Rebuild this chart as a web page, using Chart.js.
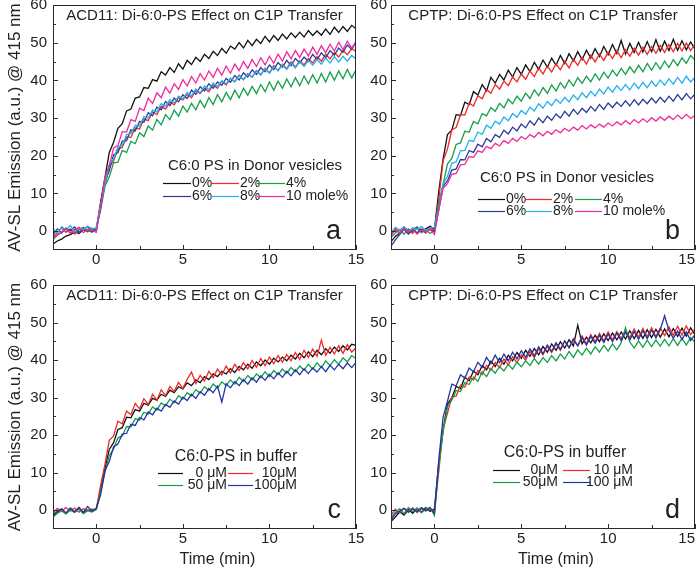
<!DOCTYPE html>
<html>
<head>
<meta charset="utf-8">
<script src="https://cdn.jsdelivr.net/npm/chart.js@4.4.1/dist/chart.umd.min.js"></script>
<style>
  html, body { margin: 0; padding: 0; background: #fff; }
  #wrap { position: relative; width: 700px; height: 572px; }
  #wrap canvas { position: absolute; left: 0; top: 0; }
</style>
</head>
<body>
<div id="wrap">
  <canvas id="pa" width="700" height="572"></canvas>
  <canvas id="pb" width="700" height="572"></canvas>
  <canvas id="pc" width="700" height="572"></canvas>
  <canvas id="pd" width="700" height="572"></canvas>
</div>
<script>
// time axis (min)
const times = [-2.5,-2.25,-2,-1.75,-1.5,-1.25,-1,-0.75,-0.5,-0.25,0,
  0.25,0.5,0.75,1,1.25,1.5,1.75,2,2.25,2.5,2.75,3,3.25,3.5,3.75,4,4.25,4.5,4.75,5,
  5.25,5.5,5.75,6,6.25,6.5,6.75,7,7.25,7.5,7.75,8,8.25,8.5,8.75,9,9.25,9.5,9.75,10,
  10.25,10.5,10.75,11,11.25,11.5,11.75,12,12.25,12.5,12.75,13,13.25,13.5,13.75,14,14.25,14.5,14.75,15];

const yMajor = [0, 10, 20, 30, 40, 50, 60];
const yMinor = [5, 15, 25, 35, 45, 55];
const xMajor = [0, 5, 10, 15];
const xMinor = [2.5, 7.5, 12.5];

const titles = ['ACD11: Di-6:0-PS Effect on C1P Transfer', 'CPTP: Di-6:0-PS Effect on C1P Transfer',
                'ACD11: Di-6:0-PS Effect on C1P Transfer', 'CPTP: Di-6:0-PS Effect on C1P Transfer'];
const donorLabels = ['0%', '2%', '4%', '6%', '8%', '10 mole%'];
const bufferLabelsC = ['0 \u03bcM', '10\u03bcM', '50 \u03bcM', '100\u03bcM'];
const bufferLabelsD = ['0\u03bcM', '10 \u03bcM', '50\u03bcM', '100 \u03bcM'];

// panel a: ACD11, PS in donor vesicles
const a0 = [-3.4,-2.6,-2.1,-1.3,-0.9,-0.2,-0.6,0.4,-0.1,0.7,0.3,
  7.8,14.2,20.9,23.6,27.3,28.5,31.9,32.4,35.3,35.6,38.1,37.9,40.2,39.8,42.3,41.4,43.4,42.1,44.4,43.0,
  45.3,44.2,46.1,45.0,46.9,45.8,47.7,46.6,48.5,47.2,49.1,48.3,50.0,48.6,50.6,49.2,50.9,49.8,51.7,50.2,
  51.9,50.6,52.3,51.0,52.6,51.4,52.8,51.5,53.2,51.9,53.1,52.0,53.6,52.2,54.1,52.7,54.3,53.0,54.6,53.7];
const a2 = [-1.5,-0.4,0.9,-0.3,0.6,-0.8,0.4,1.0,-0.2,0.8,0.1,
  6.9,12.1,17.2,18.6,21.8,22.2,25.0,24.9,27.4,27.1,29.8,29.3,31.6,30.9,33.1,32.4,34.3,33.5,35.4,34.8,
  36.3,35.4,37.4,36.5,37.9,37.0,38.8,37.9,39.8,38.8,40.5,39.6,41.4,40.2,41.8,40.9,42.6,41.5,43.2,42.0,
  43.9,42.6,44.3,43.1,44.9,43.5,45.2,44.1,45.8,44.6,46.3,45.1,46.9,45.7,47.4,46.2,47.9,46.8,48.5,47.6];
const a4 = [-2.2,-1.1,-0.3,0.7,-0.6,0.5,-0.4,0.9,0.2,-0.3,0.6,
  5.6,11.9,14.4,18.1,18.3,21.4,20.9,23.8,23.2,26.1,25.1,27.9,26.8,29.6,28.2,30.9,29.6,32.1,30.5,33.2,
  31.6,33.9,32.2,34.7,32.8,35.4,33.6,36.2,34.3,36.8,34.9,37.4,35.4,37.9,36.1,38.4,36.5,38.9,37.0,39.6,
  37.4,39.8,37.9,40.4,38.3,40.7,38.6,41.2,39.1,41.5,39.3,41.8,39.6,42.2,40.0,42.5,40.4,42.9,40.7,42.8];
const a6 = [-1.0,0.6,-0.5,0.8,0.1,1.1,-0.3,0.5,1.2,-0.2,0.9,
  6.2,13.1,16.0,20.3,20.8,23.9,24.0,26.9,26.6,29.1,28.9,31.4,30.6,32.9,32.2,34.4,33.3,35.3,34.3,36.2,
  35.2,37.4,36.3,38.3,37.2,39.1,37.9,39.6,38.7,40.5,39.5,41.3,40.1,42.0,40.9,42.8,41.6,43.4,42.3,44.1,
  42.9,44.7,43.5,45.3,43.9,45.8,44.6,46.2,45.0,46.9,45.5,47.3,46.0,47.9,46.7,48.6,47.5,49.4,48.2,50.3];
const a8 = [0.8,-0.5,1.2,0.3,1.5,-0.2,0.9,0.4,1.3,0.6,0.8,
  7.0,12.4,17.6,19.3,22.3,22.8,25.6,25.9,28.1,27.9,30.4,30.0,32.1,31.6,33.8,33.1,34.9,34.0,35.8,35.1,
  36.8,35.9,37.7,36.7,38.5,37.5,39.3,38.3,39.9,39.1,40.6,39.7,41.3,40.2,41.7,40.8,42.5,41.4,43.1,41.9,
  43.6,42.6,44.1,42.9,44.6,43.3,45.0,43.7,45.3,44.0,45.6,44.3,45.9,44.6,46.3,44.9,46.4,45.1,46.6,45.7];
const a10 = [-1.8,-0.9,-0.2,0.6,-0.5,0.3,1.0,-0.4,0.5,0.2,-0.3,
  6.6,14.3,17.4,22.1,22.7,26.4,26.3,29.6,29.1,32.6,32.0,35.3,33.9,36.7,35.4,38.2,36.6,39.1,37.6,40.2,
  38.5,41.0,39.3,41.8,40.1,42.5,40.8,43.2,41.4,43.8,41.9,44.3,42.6,45.0,43.2,45.5,43.7,46.0,44.1,46.4,
  44.6,47.0,45.1,47.6,45.7,47.9,46.1,48.3,46.5,48.8,46.9,49.2,47.3,49.6,47.8,50.1,48.2,50.4,48.6,50.2];

// panel b: CPTP, PS in donor vesicles
const b0 = [-2.8,-1.4,-0.5,0.9,-0.7,0.4,1.1,-0.2,0.6,1.3,0.5,
  10.6,19.2,25.6,26.8,30.9,30.7,34.2,33.6,37.0,36.1,38.9,37.2,40.8,39.3,41.6,40.1,42.7,40.9,43.4,41.6,
  44.1,42.3,44.8,42.9,45.4,43.5,45.9,44.0,46.6,44.5,47.1,45.2,47.6,45.5,48.0,45.9,48.4,46.3,49.0,46.8,
  49.5,47.1,50.6,47.0,49.8,47.4,50.1,47.5,50.3,47.6,50.8,47.7,50.4,47.9,50.9,48.0,50.5,48.1,50.2,48.3];
const b2 = [-0.9,0.7,-0.4,1.0,0.2,-0.6,0.9,0.3,-0.5,0.8,0.0,
  8.5,18.7,21.8,26.9,27.5,30.9,30.8,34.0,33.2,35.9,35.1,37.6,36.6,38.9,37.7,39.8,38.6,40.9,39.6,41.7,
  40.3,42.5,41.0,43.3,41.7,43.8,42.2,44.4,42.8,45.0,43.3,45.6,44.0,46.1,44.3,46.7,44.9,47.0,45.3,47.5,
  45.8,47.9,46.0,48.2,46.4,48.5,46.7,48.8,46.9,49.0,47.2,49.3,47.4,49.5,47.6,49.8,47.8,49.9,47.9,49.6];
const b4 = [-1.6,-0.5,0.4,-0.8,0.6,-0.2,0.8,-0.4,0.3,-0.6,0.2,
  7.5,12.4,17.8,19.3,23.0,23.4,26.5,26.3,29.1,28.5,31.2,30.6,32.8,31.8,33.9,32.7,35.0,33.8,35.8,34.5,
  36.6,35.2,37.5,35.9,38.1,36.6,38.8,37.2,39.4,37.9,40.1,38.5,40.7,39.2,41.1,39.6,41.7,40.1,42.2,40.6,
  42.7,41.2,43.2,41.6,43.6,42.0,44.0,42.3,44.5,42.7,44.7,43.0,45.1,43.4,45.5,43.9,46.0,44.5,46.6,45.4];
const b6 = [-4.0,-2.3,-0.9,0.5,-0.7,0.3,-0.4,0.6,-0.1,0.4,-0.2,
  5.6,12.0,13.3,16.2,16.5,19.0,18.9,21.4,20.9,23.1,22.4,24.6,23.7,25.6,24.9,26.8,25.8,27.6,26.6,28.4,
  27.4,29.3,28.1,30.0,28.8,30.5,29.4,31.1,30.0,31.8,30.5,32.3,31.0,32.6,31.5,33.1,31.9,33.6,32.3,34.0,
  32.8,34.2,33.1,34.6,33.2,34.9,33.5,35.0,33.8,35.3,34.0,35.5,34.2,35.8,34.5,36.2,34.8,36.5,35.1,36.4];
const b8 = [-0.4,1.0,0.3,1.2,-0.3,0.9,0.5,1.3,0.2,0.8,1.0,
  6.1,12.6,14.5,18.0,18.4,21.3,21.4,24.1,23.8,26.3,25.7,28.1,27.3,29.2,28.4,30.3,29.3,31.2,30.2,32.0,
  31.0,32.9,31.9,33.8,32.6,34.4,33.3,35.0,33.9,35.5,34.3,36.1,34.9,36.7,35.4,37.1,35.9,37.7,36.4,38.2,
  36.9,38.6,37.3,38.9,37.5,39.3,37.8,39.5,38.1,39.8,38.4,40.1,38.7,40.4,39.0,40.8,39.3,41.1,39.6,40.9];
const b10 = [-1.2,0.4,-0.6,0.7,-0.3,0.5,-0.8,0.3,-0.2,0.6,-0.9,
  5.8,11.4,12.6,15.1,15.3,17.6,17.7,19.8,19.6,21.3,20.9,22.5,21.9,23.3,22.6,24.0,23.3,24.6,23.8,25.1,
  24.4,25.6,24.9,26.2,25.3,26.5,25.7,26.9,26.1,27.3,26.5,27.6,26.8,28.0,27.1,28.2,27.4,28.4,27.6,28.7,
  27.9,29.0,28.2,29.3,28.4,29.6,28.7,29.8,28.9,30.1,29.2,30.3,29.4,30.5,29.6,30.8,29.8,31.0,29.9,30.7];

// panel c: ACD11, PS in buffer
const c0 = [-1.5,-0.6,0.3,-0.9,0.2,-0.5,0.5,-0.7,0.1,-0.3,0.4,
  5.4,11.0,16.2,18.0,21.5,22.0,24.8,24.6,26.8,26.4,28.5,28.0,29.8,29.3,30.9,30.3,32.0,31.3,32.9,32.3,
  33.9,33.2,34.7,34.0,35.6,34.8,36.3,35.6,37.0,36.3,37.7,36.7,38.3,37.4,38.9,37.8,39.5,38.5,40.0,38.9,
  40.5,39.5,40.8,39.8,41.3,40.3,41.8,40.6,42.2,40.9,42.6,41.4,43.0,41.8,43.5,42.3,43.8,42.7,44.2,43.9];
const c10 = [-0.8,0.5,-0.3,0.7,-0.2,0.6,-0.5,0.4,-0.1,0.3,0.2,
  6.7,12.2,18.6,19.8,23.7,23.0,26.4,25.5,28.4,27.0,29.7,28.1,30.9,29.3,32.1,30.5,33.0,31.6,34.1,32.4,
  34.9,36.8,33.7,35.9,34.4,37.0,35.3,37.6,36.0,38.4,36.6,38.9,37.2,39.3,37.6,39.9,38.1,40.4,38.5,40.8,
  39.0,41.2,39.4,41.5,39.8,42.0,40.2,42.6,40.7,42.9,41.0,45.3,41.3,43.4,41.6,43.8,41.8,44.1,42.1,43.3];
const c50 = [-1.9,-0.8,-0.2,-1.0,0.1,-0.6,0.3,-0.9,-0.2,-0.5,0.2,
  4.9,10.1,14.6,16.3,19.3,19.8,22.3,22.2,24.4,24.0,26.1,25.6,27.5,26.7,28.6,27.8,29.6,28.6,30.5,29.6,
  31.3,30.4,32.1,31.2,32.9,31.9,33.6,32.5,34.2,33.2,34.7,33.6,35.4,34.3,35.9,34.7,36.3,35.3,36.9,35.6,
  37.2,36.1,37.6,36.5,38.0,36.9,38.4,37.3,38.9,37.6,39.3,38.0,39.8,38.5,40.1,38.9,40.6,39.5,41.2,40.4];
const c100 = [-1.2,-0.3,0.4,-0.7,0.6,-0.4,0.8,-0.6,1.0,-0.2,0.5,
  4.1,10.5,13.0,16.9,17.6,20.3,20.5,22.9,22.6,24.7,24.1,26.2,25.4,27.2,26.4,28.2,27.4,29.1,28.3,30.1,
  29.2,30.9,29.8,31.6,30.6,32.4,31.3,33.1,28.8,33.7,32.6,34.3,33.2,34.8,33.6,35.3,34.1,35.8,34.6,36.2,
  35.0,36.6,35.4,37.0,35.8,37.4,36.1,37.7,36.4,37.9,36.8,38.3,36.9,38.6,37.4,38.9,37.7,39.2,38.0,39.4];

// panel d: CPTP, PS in buffer
const d0 = [-3.0,-1.8,-0.4,-1.3,0.2,-0.8,0.5,-0.5,0.7,-0.3,0.4,
  12.6,21.4,28.3,29.9,33.0,32.4,35.4,34.5,37.1,36.1,38.5,37.4,39.7,38.3,40.5,38.9,41.3,39.8,42.0,40.5,
  42.6,41.0,43.1,41.4,43.6,42.1,44.3,42.6,44.9,43.2,45.4,43.8,49.3,44.3,46.1,44.6,46.6,44.9,47.0,45.2,
  47.2,45.4,47.5,45.6,47.8,45.7,47.9,45.8,48.1,46.0,48.2,46.1,48.3,46.2,48.4,46.3,48.5,46.4,48.6,46.7];
const d10 = [-1.4,0.3,-0.7,0.5,-0.3,0.6,-0.6,0.4,-0.2,0.5,-0.4,
  10.3,21.7,25.8,30.2,30.4,33.3,32.8,35.5,34.7,37.2,36.1,38.6,37.3,39.4,38.0,40.3,38.7,40.9,39.3,41.4,
  40.0,42.3,40.6,43.0,41.4,43.7,42.0,44.3,42.6,45.1,43.3,45.7,43.8,46.4,44.3,46.8,44.9,47.1,45.1,47.5,
  45.4,47.6,45.7,47.9,46.0,48.3,46.1,48.4,46.2,48.6,46.3,48.6,46.5,48.8,46.6,49.0,46.7,49.1,46.8,48.3];
const d50 = [-2.0,-0.6,0.4,-0.9,0.7,-0.4,0.6,-0.7,0.3,0.8,-1.4,
  12.1,20.9,27.6,29.3,31.9,31.6,34.0,33.5,35.5,34.3,36.9,35.6,37.7,36.5,38.3,37.1,38.9,37.6,39.5,38.2,
  39.8,38.6,40.4,38.9,40.7,39.4,41.2,39.8,41.6,40.3,42.3,40.7,42.7,41.3,43.2,41.6,43.5,42.1,43.9,42.4,
  44.3,42.7,44.6,48.6,44.8,43.2,45.1,43.4,45.3,43.6,45.4,43.7,45.5,43.8,45.7,43.9,45.8,44.0,46.0,44.7];
const d100 = [-2.6,-0.9,-0.2,0.5,-0.6,0.4,-0.3,0.7,-0.1,0.6,-0.8,
  13.4,24.8,29.0,33.6,33.1,36.1,35.2,37.9,36.9,39.4,38.1,40.7,39.0,41.3,39.3,41.6,39.8,42.1,40.3,42.5,
  40.7,43.0,41.1,43.5,41.7,44.0,42.3,44.6,42.9,45.1,43.3,45.5,43.8,46.0,44.0,46.3,44.5,46.6,44.7,46.9,
  44.9,47.2,45.2,47.4,45.4,47.6,45.5,47.8,45.7,48.0,45.9,48.1,51.8,47.9,45.8,47.7,45.5,47.5,45.2,46.8];

const FONT = '"Liberation Sans", Arial, Helvetica, sans-serif';
const TXT = '#222';
const donorColors = ['#111111', '#f02828', '#14a04a', '#2d3a96', '#1fb2ef', '#f02a9a'];
const bufferColors = ['#111111', '#f02828', '#14a04a', '#2234a6'];

const decor = {
  id: 'decor',
  afterDatasetsDraw(chart, args, o) {
    const { ctx, chartArea: a, scales: { x, y } } = chart;
    ctx.save();
    ctx.strokeStyle = '#2a2a2a';
    ctx.lineWidth = 1;
    ctx.strokeRect(a.left + 0.5, a.top + 0.5, a.width - 1, a.height - 1);
    ctx.beginPath();
    const yt = (v, len) => { const p = Math.round(y.getPixelForValue(v)) + 0.5; ctx.moveTo(a.left, p); ctx.lineTo(a.left + len, p); };
    const xt = (v, len) => { const p = Math.round(x.getPixelForValue(v)) + 0.5; ctx.moveTo(p, a.bottom); ctx.lineTo(p, a.bottom - len); };
    yMajor.forEach(v => yt(v, 5));
    yMinor.forEach(v => yt(v, 3));
    xMajor.forEach(v => xt(v, 5));
    xMinor.forEach(v => xt(v, 4));
    ctx.stroke();

    ctx.fillStyle = TXT;
    ctx.font = '15px ' + FONT;
    ctx.textAlign = 'center';
    ctx.textBaseline = 'middle';
    ctx.fillText(o.title, (a.left + a.right) / 2, a.top + 11);

    ctx.font = '27px ' + FONT;
    ctx.textAlign = 'right';
    ctx.textBaseline = 'alphabetic';
    ctx.fillText(o.letter, a.right - 15, a.bottom - 11);

    if (o.timeTitle) {
      ctx.font = '16px ' + FONT;
      ctx.textAlign = 'center';
      ctx.textBaseline = 'middle';
      ctx.fillText('Time (min)', (a.left + a.right) / 2 + 13, 560);
    }

    // legend
    const lg = o.legend;
    ctx.font = lg.titleSize + 'px ' + FONT;
    ctx.textAlign = 'center';
    ctx.textBaseline = 'middle';
    ctx.fillText(lg.title, lg.titleX, lg.titleY);
    ctx.font = '14px ' + FONT;
    chart.data.datasets.forEach((ds, k) => {
      const row = Math.floor(k / lg.colX.length), col = k % lg.colX.length;
      const yy = Math.round(lg.rowY[row]) + 0.5, xx = lg.colX[col];
      ctx.strokeStyle = ds.borderColor;
      ctx.lineWidth = 1.2;
      ctx.beginPath();
      ctx.moveTo(xx, yy);
      ctx.lineTo(xx + lg.lineLen, yy);
      ctx.stroke();
      ctx.fillStyle = TXT;
      if (lg.textRight) {
        ctx.textAlign = 'right';
        ctx.fillText(ds.label, lg.textRight[col], yy);
      } else {
        ctx.textAlign = 'left';
        ctx.fillText(ds.label, xx + lg.lineLen + 1, yy);
      }
    });
    ctx.restore();
  }
};

function panel(id, cfg) {
  const n = cfg.series.length;
  // right-hand panels keep the last x label inside the page
  const xVals = cfg.innerX ? [-2.5].concat(xMajor) : xMajor;
  return new Chart(document.getElementById(id), {
    type: 'line',
    data: {
      datasets: cfg.series.map((s, i) => ({
        label: cfg.labels[i],
        data: times.map((t, k) => ({ x: t, y: s[k] })),
        borderColor: cfg.colors[i],
        borderWidth: 1.3,
        pointRadius: 0,
        tension: 0,
        fill: false,
        order: n - i
      }))
    },
    options: {
      responsive: false,
      animation: false,
      events: [],
      layout: { padding: cfg.pad },
      plugins: {
        legend: { display: false },
        tooltip: { enabled: false },
        decor: { title: cfg.title, letter: cfg.letter, legend: cfg.legend, timeTitle: cfg.timeTitle }
      },
      scales: {
        x: {
          type: 'linear', min: -2.5, max: 15,
          grid: { display: false, drawTicks: false },
          border: { display: false },
          afterBuildTicks: s => { s.ticks = xVals.map(v => ({ value: v })); },
          afterFit: s => { s.height = cfg.xH; s.paddingLeft = 0; s.paddingRight = 0; },
          ticks: {
            font: { family: FONT, size: 15, lineHeight: 1 }, color: TXT, padding: 2,
            maxRotation: 0, autoSkip: false, align: cfg.innerX ? 'inner' : 'center',
            callback: v => (v < 0 ? '' : String(v))
          }
        },
        y: {
          type: 'linear', min: -5, max: 60,
          grid: { display: false, drawTicks: false },
          border: { display: false },
          afterBuildTicks: s => { s.ticks = yMajor.map(v => ({ value: v })); },
          afterFit: s => { s.width = cfg.yW; s.paddingTop = 0; s.paddingBottom = 0; },
          ticks: { font: { family: FONT, size: 15, lineHeight: 1 }, color: TXT, padding: cfg.yPad, autoSkip: false },
          title: {
            display: cfg.yTitle, text: 'AV-SL Emission (a.u.) @ 415 nm',
            font: { family: FONT, size: 17, lineHeight: 1.2 }, color: TXT,
            padding: { top: 5, bottom: 0 }
          }
        }
      }
    },
    plugins: [decor]
  });
}

panel('pa', {
  series: [a0, a2, a4, a6, a8, a10], labels: donorLabels, colors: donorColors,
  title: titles[0], letter: 'a', yTitle: true, timeTitle: false, innerX: false,
  pad: { left: 0, right: 344, top: 5, bottom: 292 }, yW: 53, xH: 30, yPad: 6,
  legend: { title: 'C6:0 PS in Donor vesicles', titleSize: 15, titleX: 255, titleY: 166,
            colX: [163, 211, 257], rowY: [183, 196], lineLen: 28 }
});
panel('pb', {
  series: [b0, b2, b4, b6, b8, b10], labels: donorLabels, colors: donorColors,
  title: titles[1], letter: 'b', yTitle: false, timeTitle: false, innerX: true,
  pad: { left: 360, right: 5, top: 5, bottom: 292 }, yW: 31, xH: 30, yPad: 4,
  legend: { title: 'C6:0 PS in Donor vesicles', titleSize: 15, titleX: 567, titleY: 178,
            colX: [478, 525, 575], rowY: [199, 211], lineLen: 27 }
});
panel('pc', {
  series: [c0, c10, c50, c100], labels: bufferLabelsC, colors: bufferColors,
  title: titles[2], letter: 'c', yTitle: true, timeTitle: true, innerX: false,
  pad: { left: 0, right: 344, top: 285, bottom: 0 }, yW: 53, xH: 43, yPad: 6,
  legend: { title: 'C6:0-PS in buffer', titleSize: 16, titleX: 236, titleY: 457,
            colX: [158, 228], textRight: [227, 297], rowY: [473, 485], lineLen: 25 }
});
panel('pd', {
  series: [d0, d10, d50, d100], labels: bufferLabelsD, colors: bufferColors,
  title: titles[3], letter: 'd', yTitle: false, timeTitle: true, innerX: true,
  pad: { left: 360, right: 5, top: 285, bottom: 0 }, yW: 31, xH: 43, yPad: 4,
  legend: { title: 'C6:0-PS in buffer', titleSize: 16, titleX: 565, titleY: 453,
            colX: [493, 563], textRight: [558, 633], rowY: [470, 482], lineLen: 27 }
});
</script>
</body>
</html>
